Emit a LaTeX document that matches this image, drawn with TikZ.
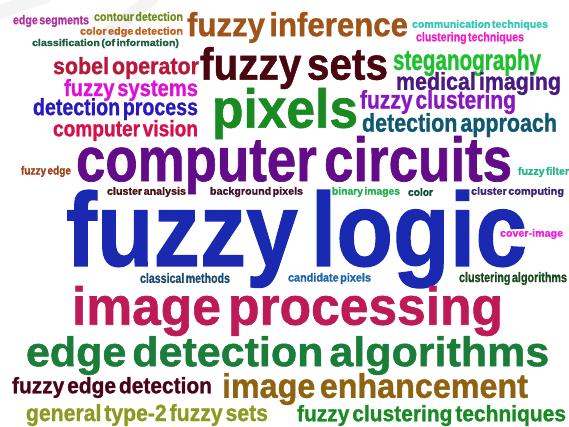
\documentclass[tikz,border=0pt]{standalone}
\usepackage{fontspec}
\usepackage{graphicx}
\setmainfont{Liberation Sans}
\newfontfamily\wcfont{Liberation Sans}[WordSpace=0.5, FakeBold=1.2]
\tikzset{wc/.style={anchor=north west, inner sep=0pt, outer sep=0pt},
  wmark/.style={line width=14pt, gray!9, line cap=round}}
% name, x-left, y-top, x-right, y-bottom, colour, text
\newcommand{\wcword}[7]{%
  \node[wc] (#1) at (#2pt,-#3pt) {\color[HTML]{#6}\resizebox*{\dimexpr #4pt-#2pt\relax}{\dimexpr #5pt-#3pt\relax}{\wcfont\bfseries #7}};}
\begin{document}
\begin{tikzpicture}
\useasboundingbox (0,0) rectangle (569pt,-426pt);
% faint watermark strokes
\draw[wmark] (-8pt,-16pt) .. controls (10pt,-8pt) and (25pt,-2pt) .. (45pt,3pt);
\draw[wmark] (152pt,2pt) -- (105pt,-36pt);
% words
\wcword{w1}{13}{15}{89}{27}{B0309E}{edge segments}
\wcword{w2}{94}{12}{183}{21}{6F8C1A}{contour detection}
\wcword{w3}{80}{27}{183}{37}{C0601C}{color edge detection}
\wcword{w4}{32}{39}{179}{48}{1E5E40}{classification (of information)}
\wcword{w5}{187}{12}{408}{43}{A0541A}{fuzzy inference}
\wcword{w6}{412}{20}{548}{30}{30C8B4}{communication techniques}
\wcword{w7}{416}{32}{524}{44}{F020C8}{clustering techniques}
\wcword{w8}{53}{57}{199}{79}{B8183A}{sobel operator}
\wcword{w9}{200}{47}{388}{89}{4A0610}{fuzzy sets}
\wcword{w10}{393}{49}{541}{76}{1EC030}{steganography}
\wcword{w11}{64}{79}{198}{101}{E010D8}{fuzzy systems}
\wcword{w12}{396}{72}{561}{95}{4A1A80}{medical imaging}
\wcword{w13}{212}{88}{358}{139}{1A8A22}{pixels}
\wcword{w14}{360}{90}{516}{114}{8A18C0}{fuzzy clustering}
\wcword{w15}{33}{98}{198}{120}{2A1ABE}{detection process}
\wcword{w16}{362}{113}{557}{137}{0E5870}{detection approach}
\wcword{w17}{53}{120}{198}{141}{D8104A}{computer vision}
\wcword{w18}{76}{136}{512}{194}{620C8A}{computer circuits}
\wcword{w19}{21}{166}{71}{177}{A0401A}{fuzzy edge}
\wcword{w20}{518}{167}{569}{177}{20B888}{fuzzy filter}
\wcword{w21}{107}{187}{186}{197}{4A1010}{cluster analysis}
\wcword{w22}{210}{187}{303}{197}{40102A}{background pixels}
\wcword{w23}{332}{187}{400}{197}{22B050}{binary images}
\wcword{w24}{408}{188}{433}{196}{0A4A30}{color}
\wcword{w25}{471}{187}{564}{197}{3A2470}{cluster computing}
\wcword{w26}{66}{190}{527}{288}{1A2AB0}{fuzzy logic}
\wcword{w27}{500}{229}{563}{239}{F020D8}{cover-image}
\wcword{w28}{140}{273}{230}{283}{1A4A70}{classical methods}
\wcword{w29}{288}{273}{371}{284}{1E64A8}{candidate pixels}
\wcword{w30}{459}{272}{567}{285}{1A4A1A}{clustering algorithms}
\wcword{w31}{72}{286}{503}{336}{BE1A58}{image processing}
\wcword{w32}{26}{336}{549}{375}{1A7E3A}{edge detection algorithms}
\wcword{w33}{12}{377}{212}{398}{4A0418}{fuzzy edge detection}
\wcword{w34}{222}{373}{528}{405}{8E6412}{image enhancement}
\wcword{w35}{26}{404}{268}{426}{8C9A22}{general type-2 fuzzy sets}
\wcword{w36}{297}{405}{566}{426}{1A8A24}{fuzzy clustering techniques}
\end{tikzpicture}
\end{document}
